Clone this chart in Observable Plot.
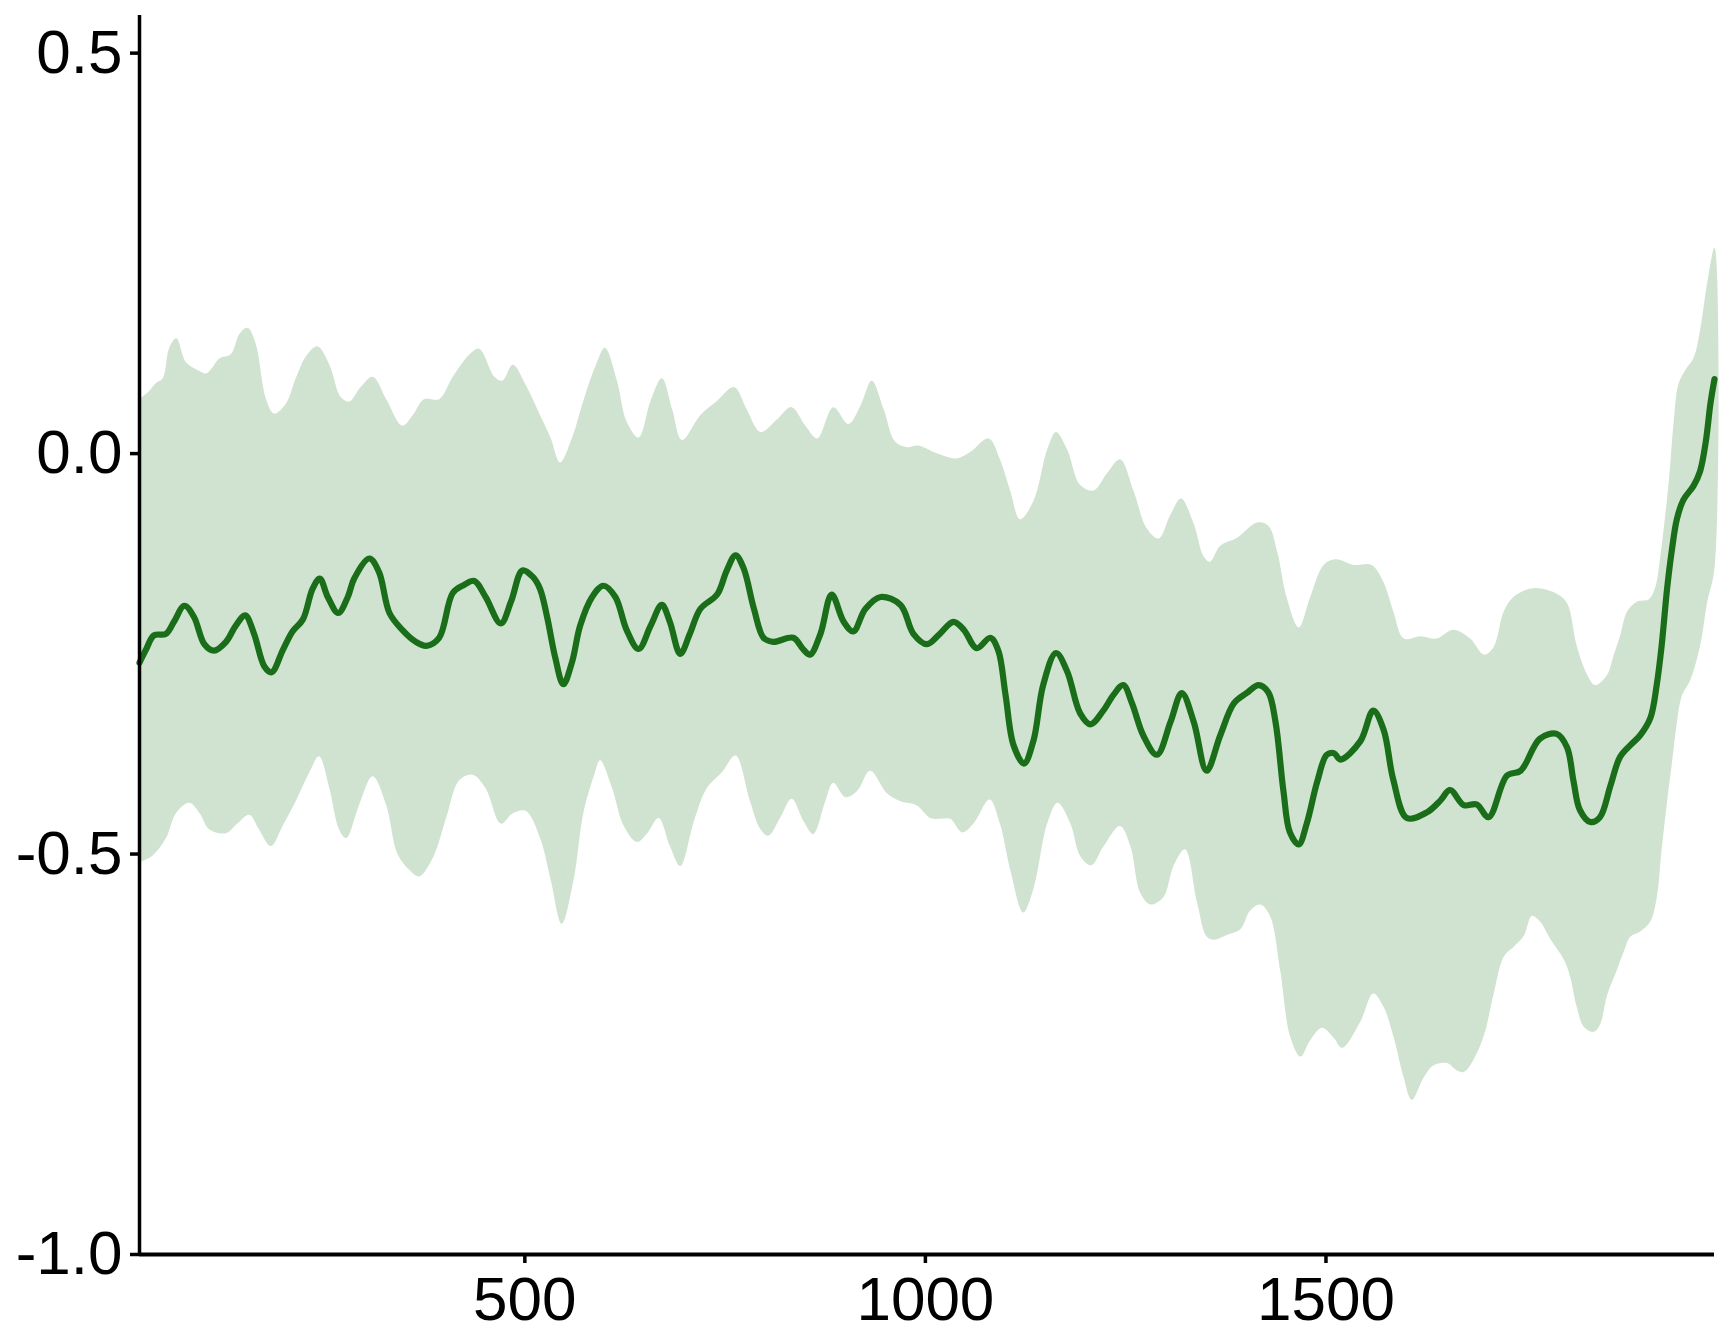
<!DOCTYPE html>
<html>
<head>
<meta charset="utf-8">
<script src="https://cdn.jsdelivr.net/npm/d3@7"></script>
<script src="https://cdn.jsdelivr.net/npm/@observablehq/plot@0.6"></script>
<style>
  html, body { margin: 0; padding: 0; background: #ffffff; }
  #chart { width: 1728px; height: 1344px; }
</style>
</head>
<body>
<div id="chart"></div>
<script>
const meanYears = [19,27,37,52,62,75,87,100,112,127,139,151,162,175,184,198,210,223,235,244,254,267,279,287,306,318,331,347,364,377,393,410,424,437,451,470,483,497,510,
  519,528,538,548,559,569,584,598,613,627,642,657,671,681,694,706,719,740,752,763,773,786,798,810,835,848,856,869,883,898,910,925,944,969,985,1002,
  1018,1035,1048,1064,1081,1091,1100,1110,1123,1135,1147,1163,1177,1193,1206,1222,1235,1247,1258,1272,1289,1306,1320,1335,1351,1368,1385,1401,1416,1428,1437,1447,1455,1466,1476,1489,1501,1510,
  1518,1543,1559,1572,1584,1601,1626,1643,1655,1672,1688,1703,1726,1743,1767,1788,1801,1809,1817,1830,1842,1855,1867,1880,1892,1905,1913,1919,1926,1932,1938,1946,1959,1967,1974,1980,1985];
const meanValues = [-0.261,-0.245,-0.227,-0.225,-0.210,-0.190,-0.204,-0.238,-0.246,-0.235,-0.215,-0.202,-0.225,-0.266,-0.273,-0.245,-0.222,-0.207,-0.169,-0.156,-0.179,-0.199,-0.179,-0.156,-0.131,-0.148,-0.199,-0.220,-0.235,-0.240,-0.230,-0.174,-0.164,-0.159,-0.179,-0.212,-0.184,-0.146,-0.154,
  -0.169,-0.205,-0.255,-0.288,-0.260,-0.215,-0.179,-0.165,-0.179,-0.220,-0.244,-0.215,-0.189,-0.210,-0.250,-0.225,-0.194,-0.176,-0.146,-0.127,-0.143,-0.194,-0.230,-0.235,-0.230,-0.245,-0.251,-0.225,-0.176,-0.210,-0.222,-0.194,-0.179,-0.189,-0.225,-0.238,
  -0.225,-0.210,-0.220,-0.243,-0.230,-0.246,-0.301,-0.364,-0.387,-0.358,-0.289,-0.249,-0.272,-0.324,-0.338,-0.321,-0.301,-0.289,-0.312,-0.352,-0.376,-0.335,-0.299,-0.335,-0.396,-0.352,-0.312,-0.299,-0.289,-0.298,-0.335,-0.422,-0.473,-0.488,-0.462,-0.410,-0.376,-0.374,
  -0.382,-0.359,-0.321,-0.345,-0.407,-0.455,-0.448,-0.433,-0.420,-0.439,-0.438,-0.454,-0.402,-0.396,-0.356,-0.350,-0.367,-0.409,-0.445,-0.460,-0.454,-0.415,-0.379,-0.364,-0.352,-0.330,-0.288,-0.240,-0.167,-0.119,-0.082,-0.058,-0.040,-0.022,0.014,0.063,0.093];

const upperYears = [19,31,39.5,48,56,65,77,92,102,108,119,133,144,154,164,177,187,202,214,227,241,256,270,281,295,310,327,347,360,374,393,410,431,443,462,472,485,501,
  519,532,544,559,573,588,600,615,627,642,657,671,684,696,719,740,761,777,794,815,833,850,865,885,904,919,933,948,962,977,991,1010,
  1018.5,1039,1056,1079,1093,1106,1118,1135,1152,1163,1177,1193,1210,1227,1243,1260,1276,1291,1306,1319,1335,1347,1355,1368,1389,1414,1428,1439,1451,1466,1480,1497,1512,
  1535,1557,1572,1584,1597,1618,1638,1659,1680,1697,1709,1722,1734,1759,1788,1801,1813,1826,1836,1851,1859,1867,1876,1888,1903,1911,1917,1928,1934,1940,1949,1959,1967,1976,1985];
const upperValues = [0.068,0.078,0.088,0.094,0.132,0.144,0.114,0.104,0.100,0.105,0.119,0.124,0.150,0.157,0.137,0.068,0.050,0.063,0.094,0.122,0.134,0.111,0.071,0.065,0.083,0.096,0.068,0.035,0.048,0.068,0.068,0.096,0.124,0.131,0.096,0.091,0.111,0.086,
  0.048,0.020,-0.011,0.020,0.066,0.109,0.132,0.091,0.040,0.020,0.066,0.094,0.055,0.017,0.048,0.066,0.083,0.055,0.027,0.043,0.058,0.035,0.019,0.058,0.037,0.060,0.091,0.055,0.015,0.008,0.010,0.002,
  -0.001,-0.006,0.002,0.019,-0.007,-0.047,-0.082,-0.059,0.005,0.027,0.005,-0.039,-0.046,-0.024,-0.007,-0.047,-0.093,-0.106,-0.076,-0.056,-0.088,-0.128,-0.135,-0.115,-0.105,-0.086,-0.090,-0.122,-0.180,-0.217,-0.180,-0.139,-0.132,
  -0.139,-0.139,-0.161,-0.197,-0.231,-0.228,-0.231,-0.220,-0.231,-0.251,-0.242,-0.197,-0.179,-0.168,-0.175,-0.187,-0.240,-0.276,-0.289,-0.276,-0.252,-0.228,-0.197,-0.185,-0.182,-0.167,-0.131,-0.034,0.039,0.087,0.105,0.120,0.154,0.214,0.257];

const lowerYears = [19,35,52,64.5,81,94,106,127,141,156,168,183,198,214,231,243,256,268,277,293,310,327,341,356,368,385,402,418,435,451,470,485,501,
  519,532,546,561,573,586,594,609,623,640,652,667,681,694,711,727,746,763,781,794,804,819,833,848,860,875,885,900,915,931,952,969,989,1006,
  1018.5,1031,1046,1060,1080,1093,1106,1122,1135,1152,1165,1181,1193,1207,1222,1243,1256,1268,1281,1297,1310,1324,1339,1351,1360,1376,1393,1405,1418,1430,1443,1455,1468,1480,1495,1510,
  1520,1543,1559,1572,1584,1597,1607,1622,1634,1651,1663,1672,1684,1697,1709,1722,1734,1747,1757,1767,1780,1797,1805,1813,1822,1834,1842,1851,1863,1872,1880,1892,1905,1913,1919,1926,1932,1938,1944,1955,1967,1976,1985];
const lowerValues = [-0.510,-0.502,-0.480,-0.449,-0.436,-0.449,-0.469,-0.474,-0.462,-0.451,-0.469,-0.490,-0.464,-0.434,-0.398,-0.378,-0.418,-0.469,-0.480,-0.439,-0.403,-0.439,-0.500,-0.520,-0.528,-0.505,-0.454,-0.408,-0.401,-0.418,-0.462,-0.449,-0.446,
  -0.480,-0.531,-0.587,-0.531,-0.449,-0.403,-0.383,-0.418,-0.464,-0.485,-0.475,-0.455,-0.490,-0.515,-0.459,-0.418,-0.398,-0.377,-0.434,-0.469,-0.477,-0.454,-0.431,-0.459,-0.475,-0.434,-0.411,-0.429,-0.421,-0.396,-0.424,-0.434,-0.439,-0.455,
  -0.456,-0.456,-0.473,-0.462,-0.432,-0.462,-0.520,-0.573,-0.543,-0.462,-0.436,-0.462,-0.502,-0.514,-0.491,-0.465,-0.491,-0.548,-0.563,-0.554,-0.514,-0.494,-0.560,-0.603,-0.607,-0.601,-0.594,-0.571,-0.563,-0.577,-0.646,-0.727,-0.753,-0.733,-0.717,-0.730,
  -0.742,-0.709,-0.674,-0.691,-0.727,-0.779,-0.807,-0.779,-0.764,-0.761,-0.770,-0.772,-0.757,-0.727,-0.676,-0.628,-0.616,-0.602,-0.577,-0.584,-0.606,-0.632,-0.654,-0.691,-0.716,-0.722,-0.713,-0.676,-0.645,-0.621,-0.603,-0.597,-0.584,-0.554,-0.494,-0.433,-0.385,-0.336,-0.303,-0.282,-0.240,-0.185,-0.143];

const xTicks = [500, 1000, 1500];
const xTickLabels = ["500", "1000", "1500"];
const yTicks = [-1.0, -0.5, 0.0, 0.5];
const yTickLabels = ["-1.0", "-0.5", "0.0", "0.5"];

const xDomain = [19, 1985];
const yDomain = [-1, 0.547];

const mean = meanYears.map((x, i) => ({x, y: meanValues[i]}));
const upper = upperYears.map((x, i) => ({x, y: upperValues[i]}));
const lower = lowerYears.map((x, i) => ({x, y: lowerValues[i]}));
const ribbon = upper.concat(lower.slice().reverse());

const font = "'Liberation Sans', Arial, Helvetica, sans-serif";

const chart = Plot.plot({
  width: 1728,
  height: 1344,
  marginLeft: 139,
  marginRight: 14,
  marginTop: 15,
  marginBottom: 90,
  style: {fontFamily: font, color: "#000000", background: "#ffffff", overflow: "visible"},
  x: {domain: xDomain, label: null},
  y: {domain: yDomain, label: null},
  marks: [
    Plot.line(ribbon, {x: "x", y: "y", fill: "#d0e3d0", stroke: "none", curve: "catmull-rom"}),
    Plot.line(mean, {x: "x", y: "y", stroke: "#1a6e1a", strokeWidth: 6.2, curve: "catmull-rom"}),
    Plot.ruleX([xDomain[0]], {stroke: "#000000", strokeWidth: 3.5}),
    Plot.ruleY([yDomain[0]], {stroke: "#000000", strokeWidth: 4}),
    Plot.axisY(yTicks, {
      label: null, tickSize: 9, tickPadding: 8, fontSize: 62, strokeWidth: 3.5,
      fontFamily: font, fill: "#000000", stroke: "#000000",
      tickFormat: d => yTickLabels[yTicks.indexOf(d)]
    }),
    Plot.axisX(xTicks, {
      label: null, tickSize: 9, tickPadding: 12, fontSize: 62, strokeWidth: 3.5,
      fontFamily: font, fill: "#000000", stroke: "#000000",
      tickFormat: d => xTickLabels[xTicks.indexOf(d)]
    })
  ]
});
document.getElementById("chart").appendChild(chart);
</script>
</body>
</html>
